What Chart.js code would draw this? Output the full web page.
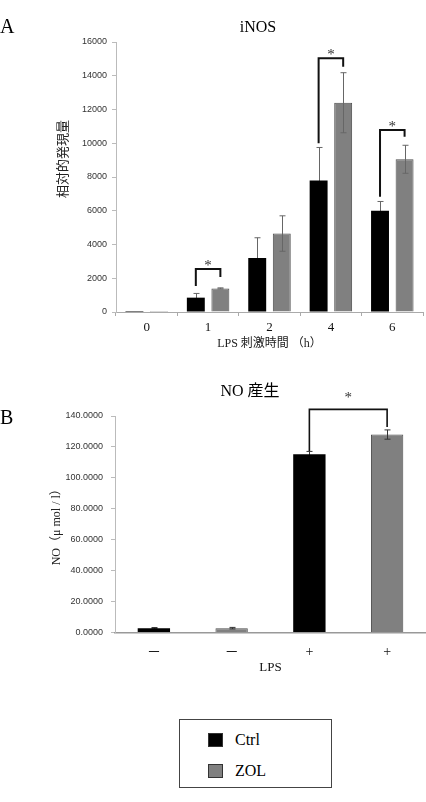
<!DOCTYPE html>
<html>
<head>
<meta charset="utf-8">
<script src="https://cdn.jsdelivr.net/npm/chart.js@4.4.0/dist/chart.umd.min.js"></script>
<style>
  body { margin: 0; background: #fff; width: 426px; height: 802px; position: relative; overflow: hidden; }
  #chartA { position: absolute; left: 0; top: 0; }
  #chartB { position: absolute; left: 0; top: 360px; }
  #legend {
    position: absolute; left: 179px; top: 719px; width: 151px; height: 67px;
    border: 1px solid #444; font-family: "Liberation Serif", "Times New Roman", serif; font-size: 16px; color: #000;
  }
  #legend .item { position: absolute; left: 28px; display: flex; align-items: center; height: 16px; }
  #legend .swatch { width: 13px; height: 12px; border: 1px solid #333; margin-right: 12px; }
</style>
</head>
<body>
<canvas id="chartA" width="426" height="360"></canvas>
<canvas id="chartB" width="426" height="320"></canvas>
<div id="legend"></div>

<script>
// ---- panel A : iNOS expression vs LPS time ----
const timeLabels = ['0', '1', '2', '4', '6'];
const ctrlExpr = [60, 850, 3200, 7800, 6000];
const zolExpr = [60, 1400, 4650, 12400, 9050];
const ctrlExprErr = [0, 250, 1200, 1950, 550];
const zolExprErr = [0, 30, 1050, 1780, 830];

// significance brackets (category index, bracket top, leg ends)
const sigIndexA = [1, 3, 4];
const sigTopA = [2550, 15030, 10790];
const sigCtrlEndA = [1540, 10000, 6830];
const sigZolEndA = [2070, 14540, 10390];

// ---- panel B : NO production ----
const lpsLabels = ['\uFF0D', '\uFF0D', '+', '+'];
const ctrlNO = [2.8, null, 115.3, null];
const zolNO = [null, 2.8, null, 128];
const ctrlNOErr = [0.4, null, 1.8, null];
const zolNOErr = [null, 0.5, null, 3];

const sigCtrlIndexB = [2];
const sigZolIndexB = [3];
const sigTopB = [144.3];
const sigCtrlEndB = [117.4];
const sigZolEndB = [132.9];

const SERIF = '"Liberation Serif", "Noto Sans CJK JP", serif';
const SANS = '"Liberation Sans", sans-serif';
const BLACK = '#000000';
const GREY = '#808080';

function drawErrors(chart, color, which) {
  const ctx = chart.ctx;
  const y = chart.scales.y;
  ctx.save();
  ctx.strokeStyle = color;
  ctx.lineWidth = 1;
  chart.data.datasets.forEach((ds, i) => {
    if (!which(i)) return;
    const meta = chart.getDatasetMeta(i);
    meta.data.forEach((bar, j) => {
      const v = ds.data[j];
      const e = ds.errors[j];
      if (v == null || !e) return;
      const x = Math.round(bar.x) + 0.5;
      const t = y.getPixelForValue(v + e);
      const b = y.getPixelForValue(v - e);
      ctx.beginPath();
      ctx.moveTo(x, t); ctx.lineTo(x, b);
      ctx.moveTo(x - 3, t); ctx.lineTo(x + 3, t);
      ctx.moveTo(x - 3, b); ctx.lineTo(x + 3, b);
      ctx.stroke();
    });
  });
  ctx.restore();
}

function makeOverlay(cfg) {
  return {
    id: 'overlay',
    // black bars hide the lower half of their own error bar
    beforeDatasetsDraw(chart) {
      drawErrors(chart, cfg.errColor, i => chart.data.datasets[i].backgroundColor === BLACK);
    },
    afterDatasetsDraw(chart) {
      drawErrors(chart, cfg.errColor, i => chart.data.datasets[i].backgroundColor !== BLACK);
    },
    afterDraw(chart) {
      const ctx = chart.ctx;
      const y = chart.scales.y;
      ctx.save();
      ctx.strokeStyle = '#111';
      ctx.lineWidth = cfg.bracketWidth;
      ctx.lineJoin = 'miter';
      cfg.brackets.forEach(b => {
        const x1 = chart.getDatasetMeta(0).data[b.i1].x;
        const x2 = chart.getDatasetMeta(1).data[b.i2].x;
        const yt = y.getPixelForValue(b.top);
        ctx.beginPath();
        ctx.moveTo(x1, y.getPixelForValue(b.end1));
        ctx.lineTo(x1, yt);
        ctx.lineTo(x2, yt);
        ctx.lineTo(x2, y.getPixelForValue(b.end2));
        ctx.stroke();
        ctx.fillStyle = '#333';
        ctx.font = '15px ' + SERIF;
        ctx.textAlign = 'center';
        ctx.textBaseline = 'alphabetic';
        ctx.fillText('*', (x1 + x2) / 2, yt + cfg.starOffset);
      });
      // panel letter
      ctx.fillStyle = '#000';
      ctx.textAlign = 'left';
      ctx.font = '20px ' + SERIF;
      ctx.fillText(cfg.letter, cfg.letterX, cfg.letterY);
      // title
      ctx.textAlign = 'center';
      ctx.font = '16px ' + SERIF;
      ctx.fillText(cfg.title, cfg.titleX, cfg.titleY);
      // rotated y title (panel A only)
      if (cfg.yTitle) {
        ctx.translate(cfg.yTitleX, cfg.yTitleY);
        ctx.rotate(-Math.PI / 2);
        ctx.textBaseline = 'middle';
        ctx.fillStyle = '#222';
        ctx.font = '13px ' + SERIF;
        ctx.fillText(cfg.yTitle, 0, 0);
      }
      ctx.restore();
    }
  };
}

const bracketsA = sigIndexA.map((idx, k) => ({
  i1: idx, i2: idx, top: sigTopA[k], end1: sigCtrlEndA[k], end2: sigZolEndA[k]
}));
const bracketsB = sigTopB.map((top, k) => ({
  i1: sigCtrlIndexB[k], i2: sigZolIndexB[k], top: top, end1: sigCtrlEndB[k], end2: sigZolEndB[k]
}));

const chartA = new Chart(document.getElementById('chartA'), {
  type: 'bar',
  data: {
    labels: timeLabels,
    datasets: [
      { label: 'Ctrl', data: ctrlExpr, errors: ctrlExprErr, backgroundColor: BLACK,
        categoryPercentage: 0.8, barPercentage: 0.73 },
      { label: 'ZOL', data: zolExpr, errors: zolExprErr, backgroundColor: GREY,
        borderColor: '#4d4d4d', borderWidth: 1, categoryPercentage: 0.8, barPercentage: 0.73 }
    ]
  },
  options: {
    responsive: false,
    animation: false,
    layout: { padding: { left: 0, top: 42, right: 3, bottom: 5 } },
    plugins: { legend: { display: false }, tooltip: { enabled: false } },
    scales: {
      x: {
        afterFit: s => { s.height = 43; },
        grid: { drawOnChartArea: false, tickLength: 4, color: '#aaa' },
        border: { color: '#aaa' },
        ticks: { color: '#111', padding: 4, font: { family: SERIF, size: 13 } },
        title: { display: true, text: 'LPS 刺激時間 （h）', color: '#222',
          font: { family: SERIF, size: 12 }, padding: { top: 4, bottom: 4 } }
      },
      y: {
        min: 0, max: 16000,
        afterFit: s => { s.width = 116; },
        grid: { drawOnChartArea: false, tickLength: 4, color: '#bbb' },
        border: { color: '#bbb' },
        ticks: { stepSize: 2000, color: '#333', padding: 5, font: { family: SANS, size: 9 },
          callback: v => String(v) }
      }
    }
  },
  plugins: [makeOverlay({
    errColor: '#666', bracketWidth: 2, starOffset: 1, brackets: bracketsA,
    letter: 'A', letterX: 0, letterY: 33,
    title: 'iNOS', titleX: 258, titleY: 32,
    yTitle: '相対的発現量', yTitleX: 64, yTitleY: 159
  })]
});

const chartB = new Chart(document.getElementById('chartB'), {
  type: 'bar',
  data: {
    labels: lpsLabels,
    datasets: [
      { label: 'Ctrl', data: ctrlNO, errors: ctrlNOErr, backgroundColor: BLACK, grouped: false,
        categoryPercentage: 0.8, barPercentage: 0.52 },
      { label: 'ZOL', data: zolNO, errors: zolNOErr, backgroundColor: GREY, borderColor: '#4d4d4d',
        borderWidth: 1, grouped: false, categoryPercentage: 0.8, barPercentage: 0.52 }
    ]
  },
  options: {
    responsive: false,
    animation: false,
    layout: { padding: { left: 46, top: 56, right: 0, bottom: 1 } },
    plugins: { legend: { display: false }, tooltip: { enabled: false } },
    scales: {
      x: {
        afterFit: s => { s.height = 46.5; },
        grid: { drawOnChartArea: false, drawTicks: false, color: '#999' },
        border: { color: '#999', width: 1.5 },
        ticks: { color: '#111', padding: 11, font: { family: SERIF, size: 14 } },
        title: { display: true, text: 'LPS', color: '#111',
          font: { family: SERIF, size: 13 }, padding: { top: 4, bottom: 4 } }
      },
      y: {
        min: 0, max: 140,
        afterFit: s => { s.width = 69; },
        grid: { drawOnChartArea: false, tickLength: 4, color: '#bbb' },
        border: { color: '#bbb' },
        ticks: { stepSize: 20, color: '#333', padding: 8, font: { family: SANS, size: 9 },
          callback: v => Number(v).toFixed(4) },
        title: { display: true, text: 'NO（μ mol / l）', color: '#222',
          font: { family: SERIF, size: 12 }, padding: { top: 4, bottom: 4 } }
      }
    }
  },
  plugins: [makeOverlay({
    errColor: '#333', bracketWidth: 1.6, starOffset: -7, brackets: bracketsB,
    letter: 'B', letterX: 0, letterY: 64,
    title: 'NO 産生', titleX: 250, titleY: 36
  })]
});

// legend box built from panel B datasets
const legendEl = document.getElementById('legend');
chartB.data.datasets.forEach((ds, i) => {
  const item = document.createElement('div');
  item.className = 'item';
  item.style.top = (i === 0 ? 12 : 43) + 'px';
  const sw = document.createElement('span');
  sw.className = 'swatch';
  sw.style.background = ds.backgroundColor;
  const txt = document.createElement('span');
  txt.textContent = ds.label;
  item.appendChild(sw);
  item.appendChild(txt);
  legendEl.appendChild(item);
});
</script>
</body>
</html>
